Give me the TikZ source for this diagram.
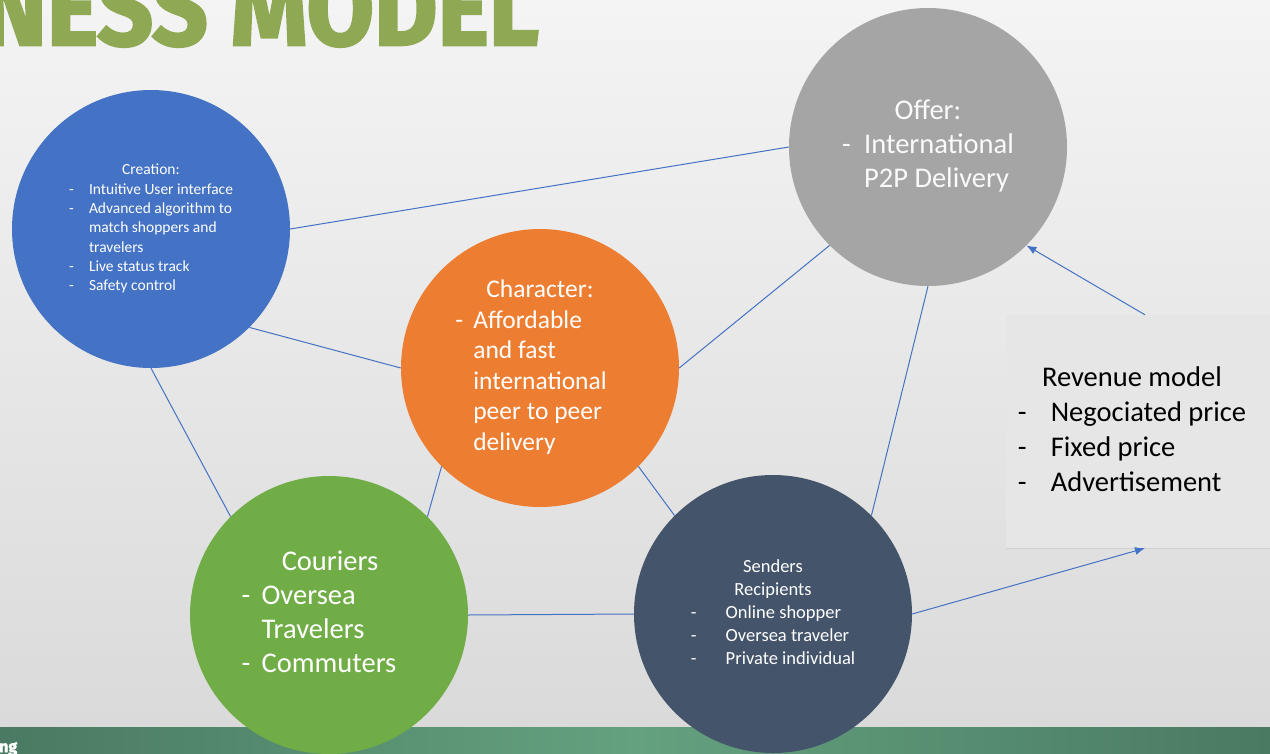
\documentclass[tikz,border=0pt]{standalone}
\usepackage{fontspec}
\setmainfont{Carlito}
\newfontfamily\titlefont{Fira Sans}[BoldFeatures={FakeBold=2.5}]
\usetikzlibrary{arrows.meta}
\definecolor{cblue}{HTML}{4472C4}
\definecolor{cgray}{HTML}{A5A5A5}
\definecolor{corange}{HTML}{ED7D31}
\definecolor{cgreen}{HTML}{70AD47}
\definecolor{cslate}{HTML}{44546A}
\definecolor{ttl}{HTML}{8EA853}
\definecolor{bgtop}{HTML}{F4F4F4}
\definecolor{bgbot}{HTML}{DADADA}
\definecolor{bandout}{HTML}{4A7A62}
\definecolor{bandin}{HTML}{64A17F}
\definecolor{boxgray}{HTML}{E6E6E6}
\definecolor{boxline}{HTML}{D0D0D0}
\begin{document}
\begin{tikzpicture}[x=1pt,y=-1pt,
    bubble/.style={circle,minimum size=278pt,inner sep=0pt,text=white},
    link/.style={draw=cblue,line width=1pt},
    >={Latex[length=10pt,width=8pt]}]
    \useasboundingbox (0,0) rectangle (1270,753);
    \clip (0,0) rectangle (1270,753);
    \shade[top color=bgtop,bottom color=bgbot] (0,0) rectangle (1270,727);
    \shade[left color=bandout,right color=bandout,middle color=bandin] (0,727) rectangle (1270,753);

    \node (title) at (-18,45) [anchor=base west,text=ttl,inner sep=0pt] {\resizebox{556pt}{75pt}{\titlefont\bfseries NESS MODEL}};
    \node (foot) at (-1,742) [anchor=north west,text=white,inner sep=0pt] {\titlefont\bfseries\fontsize{16}{16}\selectfont ng};

    \node (rev) at (1145,431.5) [fill=boxgray,minimum width=278pt,minimum height=233pt,inner sep=0pt] {};
    \draw[draw=boxline] (rev.south west) -- (rev.south east);
    \node (revtxt) at (1132,431.5) {\fontsize{28.5}{35}\selectfont
      \begin{tabular}{@{}p{33pt}@{}l@{}}
        \multicolumn{2}{c}{Revenue model}\\
        - & Negociated price\\
        - & Fixed price\\
        - & Advertisement
      \end{tabular}};

    \node (crea) at (151,229) [bubble,fill=cblue] {\fontsize{15.5}{19.3}\selectfont
      \begin{tabular}{@{}p{20pt}@{}l@{}}
        \multicolumn{2}{c}{Creation:}\\
        - & Intuitive User interface\\
        - & Advanced algorithm to\\
          & match shoppers and\\
          & travelers\\
        - & Live status track\\
        - & Safety control
      \end{tabular}};
    \node (offer) at (928,147) [bubble,fill=cgray,text=white!95!cgray] {\fontsize{28.5}{34}\selectfont
      \begin{tabular}{@{}p{22pt}@{}l@{}}
        \multicolumn{2}{c}{Offer:}\\
        - & International\\
          & P2P Delivery
      \end{tabular}};
    \node (charac) at (540,368) [bubble,fill=corange] {\fontsize{25.5}{30.5}\selectfont
      \begin{tabular}{@{}p{18pt}@{}l@{\hspace{18pt}}}
        \multicolumn{2}{c}{Character:}\\
        - & Affordable\\
          & and fast\\
          & international\\
          & peer to peer\\
          & delivery
      \end{tabular}};
    \node (cour) at (329,615) [bubble,fill=cgreen] {\fontsize{28.5}{34}\selectfont
      \begin{tabular}{@{}p{20pt}@{}l@{\hspace{20pt}}}
        \multicolumn{2}{c}{\hspace{2pt}Couriers}\\
        - & Oversea\\
          & Travelers\\
        - & Commuters
      \end{tabular}};
    \node (send) at (773,614) [bubble,fill=cslate] {\fontsize{18.5}{23}\selectfont
      \begin{tabular}{@{}p{35pt}@{}l@{}}
        \multicolumn{2}{c}{Senders}\\
        \multicolumn{2}{c}{Recipients}\\
        - & Online shopper\\
        - & Oversea traveler\\
        - & Private individual
      \end{tabular}};

    % links between the circles
    \draw[link] (crea.east) -- (offer.west);
    \draw[link] (crea.south east) -- (charac.west);
    \draw[link] (crea.south) -- (cour.north west);
    \draw[link] (charac.east) -- (offer.south west);
    \draw[link] (charac.south west) -- (cour.north east);
    \draw[link] (charac.south east) -- (send.north west);
    \draw[link] (offer.south) -- (send.north east);
    \draw[link] (cour.east) -- (send.west);
    \draw[link,->] (send.east) -- (rev.south);
    \draw[link,->] (rev.north) -- (offer.south east);
\end{tikzpicture}
\end{document}
